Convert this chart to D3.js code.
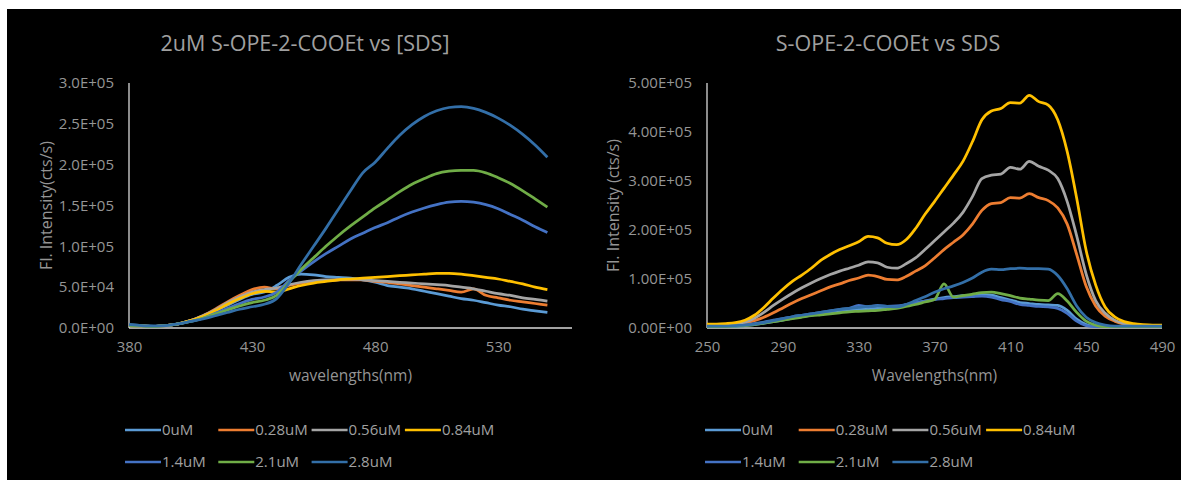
<!DOCTYPE html>
<html>
<head>
<meta charset="utf-8">
<script src="https://cdn.jsdelivr.net/npm/d3@7"></script>
<style>
  body { margin: 0; background: #fff; }
  text { font-family: "Open Sans", sans-serif; }
</style>
</head>
<body>
<div id="chart"></div>
<script>
// series labels and colours (Excel default palette)
var seriesNames = ["0uM", "0.28uM", "0.56uM", "0.84uM", "1.4uM", "2.1uM", "2.8uM"];
var seriesColors = ["#5b9bd5", "#ed7d31", "#a5a5a5", "#ffc000", "#4472c4", "#70ad47", "#336fa8"];

// ---- left chart: 2uM S-OPE-2-COOEt vs [SDS]  (intensity in 1000 cts/s)
var leftWl = [380,385,390,395,400,405,410,415,420,425,430,435,440,445,450,455,460,465,470,475,480,485,490,495,500,505,510,515,520,525,530,535,540,545,550];
var left0   = [4,3,2,3,5,9,14,21,28,35,41,44,52,62,66,65,63,62,61,59,56,52,50,48,45,42,39,36,34,31,28,26,23,21,19];
var left028 = [3,2.5,2,3,5,9,15,23,32,40,47,50,48,52,55,57,58,59,59,59,57,56,54,52,50,48,46,44,48,40,37,34,32,30,28];
var left056 = [3,2.5,2,3,5,9,15,22,31,38,44,47,49,53,56,58,59,59,60,59,58,57,56,55,54,53,52,50,48,45,42,40,37,35,33];
var left084 = [3,2.5,2,3,5,9,14,21,29,36,42,45,44,48,52,55,57,59,60,61,62,63,64,65,66,67,67,66,64,62,60,57,54,50,47];
var left14  = [3,2.5,2,3,5,8,12,18,24,30,35,38,44,58,70,81,91,100,109,116,123,129,136,142,147,151,154,155,154,151,146,139,132,124,117];
var left21  = [3,2.5,2,3,5,8,12,17,22,27,31,34,40,56,72,86,100,113,125,136,147,157,167,176,183,189,192,193,193,190,184,177,168,158,148];
var left28  = [4,3,2.5,3,5,8,11,15,19,23,26,29,36,55,78,100,122,145,168,190,203,220,236,249,259,266,270,271,269,264,257,248,237,224,209];
var leftXTicks = [380, 430, 480, 530];
var leftYTicks = [0, 50, 100, 150, 200, 250, 300];

// ---- right chart: S-OPE-2-COOEt vs SDS  (intensity in 1000 cts/s)
var rightWl = [250,255,260,265,270,275,280,285,290,295,300,305,310,315,320,325,330,335,340,345,350,355,360,365,370,375,380,385,390,395,400,405,410,415,420,425,430,435,440,445,450,455,460,465,470,475,480,485,490];
var right0   = [3,3,3,3,5,7,10,13,16,20,23,26,29,32,34,36,38,39,40,41,43,47,51,55,59,62,64,66,67,68,67,62,57,52,50,48,47,46,36,18,7,3,3,3,3,3,3,3,3];
var right028 = [5,5,6,7,10,15,22,31,41,51,60,68,76,84,90,97,102,108,105,99,98,105,116,127,143,160,175,190,212,240,254,256,266,265,274,266,260,245,212,150,85,45,24,14,8,6,5,5,5];
var right056 = [5,5,6,8,12,20,32,46,59,71,82,92,101,109,116,122,128,135,133,124,122,131,143,160,178,196,214,236,268,305,312,314,328,324,340,330,322,305,258,188,110,56,30,16,9,6,5,5,5];
var right084 = [8,8,9,11,16,26,42,61,79,95,108,122,138,150,160,168,176,187,184,173,170,180,203,232,258,285,312,340,380,425,443,448,460,459,475,462,455,425,360,265,158,88,43,23,13,9,7,6,6];
var right14  = [3,3,3,4,6,9,12,16,19,23,26,29,32,35,38,40,46,43,46,44,45,48,52,55,58,60,62,63,64,65,63,58,54,48,46,44,43,40,30,14,5,3,3,3,3,3,3,3,3];
var right21  = [3,3,3,4,5,7,10,13,16,19,22,25,27,29,31,33,34,35,36,38,40,44,48,53,58,90,63,66,69,72,73,70,66,61,59,57,56,70,55,32,14,6,3,3,3,3,3,3,3];
var right28  = [4,4,4,5,6,8,11,15,19,23,26,29,32,35,38,40,42,44,45,44,43,48,56,64,73,80,86,93,102,114,120,119,121,122,121,121,120,107,80,45,22,11,6,4,4,4,4,4,4];
var rightXTicks = [250, 290, 330, 370, 410, 450, 490];
var rightYTicks = [0, 100, 200, 300, 400, 500];

var width = 1188;
var height = 482;

var svg = d3.select("#chart")
  .append("svg")
  .attr("width", width)
  .attr("height", height);

svg.append("rect")
  .attr("x", 7).attr("y", 9)
  .attr("width", 1174).attr("height", 471)
  .attr("fill", "#000");

// "3.0E+05" style labels, value given in thousands
function sci(digits) {
  return function(d) {
    var p = (d * 1000).toExponential(digits).split("e");
    var e = p[1];
    var sign = e[0];
    var num = e.slice(1);
    if (num.length < 2) num = "0" + num;
    return p[0] + "E" + sign + num;
  };
}

function drawChart(c) {
  var x = d3.scaleLinear().domain(c.xDomain).range([c.left, c.right]);
  var y = d3.scaleLinear().domain(c.yDomain).range([c.bottom, c.top]);
  var g = svg.append("g");

  g.append("text")
    .attr("x", c.titleX).attr("y", 43).attr("dy", "0.35em")
    .attr("text-anchor", "middle")
    .attr("font-size", 21.5).attr("fill", "#a0a0a0")
    .text(c.title);

  var yAxis = g.append("g")
    .attr("transform", "translate(" + c.left + ",0)")
    .call(d3.axisLeft(y).tickValues(c.yTicks).tickSize(0).tickPadding(15).tickFormat(sci(c.digits)));
  yAxis.select(".domain").remove();
  yAxis.selectAll("text").attr("fill", "#959595").attr("font-size", 15).style("font-family", "'Open Sans', sans-serif");

  var xAxis = g.append("g")
    .attr("transform", "translate(0," + c.bottom + ")")
    .call(d3.axisBottom(x).tickValues(c.xTicks).tickSize(0).tickPadding(13));
  xAxis.select(".domain").remove();
  xAxis.selectAll("text").attr("fill", "#959595").attr("font-size", 15).style("font-family", "'Open Sans', sans-serif");

  // axis lines
  g.append("line")
    .attr("x1", c.left).attr("x2", c.left)
    .attr("y1", c.top).attr("y2", c.bottom)
    .attr("stroke", "#d9d9d9").attr("stroke-width", 1.3);
  g.append("line")
    .attr("x1", c.left).attr("x2", c.right)
    .attr("y1", c.bottom).attr("y2", c.bottom)
    .attr("stroke", "#d9d9d9").attr("stroke-width", 1.3);

  g.append("text")
    .attr("transform", "translate(" + c.yTitleX + "," + ((c.top + c.bottom) / 2) + ") rotate(-90)")
    .attr("text-anchor", "middle").attr("dy", "0.35em")
    .attr("font-size", 16).attr("fill", "#959595")
    .text(c.yTitle);

  g.append("text")
    .attr("x", (c.left + c.right) / 2).attr("y", 376).attr("dy", "0.35em")
    .attr("text-anchor", "middle")
    .attr("font-size", 15.5).attr("fill", "#959595")
    .text(c.xTitle);

  var line = d3.line()
    .curve(d3.curveMonotoneX)
    .x(function(d) { return x(d[0]); })
    .y(function(d) { return y(d[1]); });

  c.series.forEach(function(vals, i) {
    var pts = vals.map(function(v, j) { return [c.wl[j], v]; });
    g.append("path")
      .attr("d", line(pts))
      .attr("fill", "none")
      .attr("stroke", seriesColors[i])
      .attr("stroke-width", 2.75)
      .attr("stroke-linejoin", "round");
  });

  // legend, 4 per row
  seriesNames.forEach(function(name, i) {
    var col = i % 4, row = Math.floor(i / 4);
    var lx = c.legendX + col * c.legendStep;
    var ly = 430 + row * 32;
    g.append("line")
      .attr("x1", lx).attr("x2", lx + 36)
      .attr("y1", ly).attr("y2", ly)
      .attr("stroke", seriesColors[i]).attr("stroke-width", 2.5);
    g.append("text")
      .attr("x", lx + 37).attr("y", ly).attr("dy", "0.35em")
      .attr("font-size", 15).attr("fill", "#a0a0a0")
      .text(name);
  });
}

drawChart({
  title: "2uM S-OPE-2-COOEt vs [SDS]", titleX: 305,
  xTitle: "wavelengths(nm)", yTitle: "Fl. Intensity(cts/s)", yTitleX: 46,
  left: 129, right: 572, top: 83, bottom: 328,
  xDomain: [380, 560], yDomain: [0, 300],
  xTicks: leftXTicks, yTicks: leftYTicks, digits: 1,
  wl: leftWl,
  series: [left0, left028, left056, left084, left14, left21, left28],
  legendX: 125, legendStep: 93.3
});

drawChart({
  title: "S-OPE-2-COOEt vs SDS", titleX: 888,
  xTitle: "Wavelengths(nm)", yTitle: "Fl. Intensity (cts/s)", yTitleX: 613,
  left: 707, right: 1162, top: 83, bottom: 328,
  xDomain: [250, 490], yDomain: [0, 500],
  xTicks: rightXTicks, yTicks: rightYTicks, digits: 2,
  wl: rightWl,
  series: [right0, right028, right056, right084, right14, right21, right28],
  legendX: 705, legendStep: 93.7
});
</script>
</body>
</html>
